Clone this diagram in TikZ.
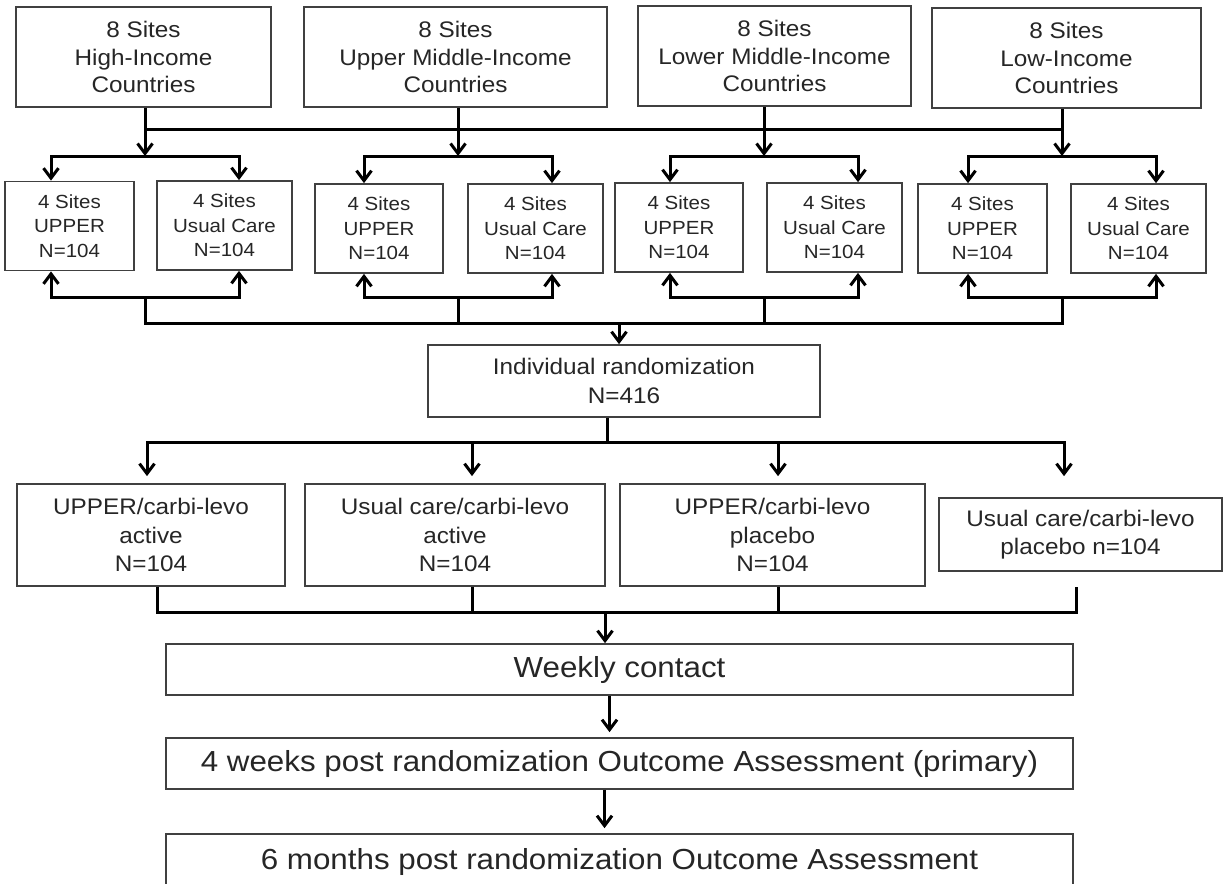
\documentclass[tikz,border=0pt]{standalone}
\usepackage{fontspec}
\setmainfont{Liberation Sans}[FakeStretch=1.08]
\usetikzlibrary{arrows.meta}
\tikzset{
  box/.style={draw=black!75, line width=1.7pt, text=black!85, align=center, inner sep=0pt},
  toptxt/.style={font=\fontsize{22.5}{27.5}\selectfont},
  sitetxt/.style={font=\fontsize{19}{24.5}\selectfont},
  armtxt/.style={font=\fontsize{22.5}{28.5}\selectfont},
  steptxt/.style={font=\fontsize{29}{34}\selectfont},
  link/.style={line width=3pt, black},
  arr/.style={link, -{Straight Barb[length=10pt,width=15pt]}},
  arrs/.style={link, {Straight Barb[length=10pt,width=15pt]}-{Straight Barb[length=10pt,width=15pt]}},
}
\begin{document}
\begin{tikzpicture}[x=1pt, y=-1pt]
  \path[use as bounding box, fill=white] (0,0) rectangle (1225,883);
  \node[box, toptxt, minimum width=255pt, minimum height=100pt] (tA) at (143.5,57) {8 Sites\\High-Income\\Countries};
  \node[box, toptxt, minimum width=303pt, minimum height=100pt] (tB) at (455.5,57) {8 Sites\\Upper Middle-Income\\Countries};
  \node[box, toptxt, minimum width=273pt, minimum height=100pt] (tC) at (774.5,56) {8 Sites\\Lower Middle-Income\\Countries};
  \node[box, toptxt, minimum width=269pt, minimum height=100pt] (tD) at (1066.5,58) {8 Sites\\Low-Income\\Countries};
  \node[box, sitetxt, minimum width=129pt, minimum height=89pt] (uA) at (69.5,226) {4 Sites\\UPPER\\N=104};
  \node[box, sitetxt, minimum width=135pt, minimum height=89pt] (cA) at (224.5,225.5) {4 Sites\\Usual Care\\N=104};
  \node[box, sitetxt, minimum width=128pt, minimum height=89pt] (uB) at (379,228.5) {4 Sites\\UPPER\\N=104};
  \node[box, sitetxt, minimum width=135pt, minimum height=89pt] (cB) at (535.5,228.5) {4 Sites\\Usual Care\\N=104};
  \node[box, sitetxt, minimum width=128pt, minimum height=89pt] (uC) at (679,227.5) {4 Sites\\UPPER\\N=104};
  \node[box, sitetxt, minimum width=135pt, minimum height=89pt] (cC) at (834.5,227.5) {4 Sites\\Usual Care\\N=104};
  \node[box, sitetxt, minimum width=129pt, minimum height=89pt] (uD) at (982.5,228.5) {4 Sites\\UPPER\\N=104};
  \node[box, sitetxt, minimum width=135pt, minimum height=89pt] (cD) at (1138.5,228.5) {4 Sites\\Usual Care\\N=104};
  \node[box, armtxt, minimum width=392pt, minimum height=72pt] (rnd) at (624,381) {Individual randomization\\N=416};
  \node[box, armtxt, minimum width=268pt, minimum height=102pt] (mA) at (151,535) {UPPER/carbi-levo\\active\\N=104};
  \node[box, armtxt, minimum width=300pt, minimum height=102pt] (mB) at (455,535) {Usual care/carbi-levo\\active\\N=104};
  \node[box, armtxt, minimum width=305pt, minimum height=102pt] (mC) at (772.5,535) {UPPER/carbi-levo\\placebo\\N=104};
  \node[box, armtxt, minimum width=283pt, minimum height=73pt] (mD) at (1080.5,534.5) {Usual care/carbi-levo\\placebo n=104};
  \node[box, steptxt, minimum width=907pt, minimum height=51pt] (wk) at (619.5,669.5) {Weekly contact};
  \node[box, steptxt, minimum width=907pt, minimum height=51pt] (w4) at (619.5,763.5) {4 weeks post randomization Outcome Assessment (primary)};
  \node[box, steptxt, minimum width=907pt, minimum height=56pt] (m6) at (619.5,862) {6 months post randomization Outcome Assessment};
  \foreach \g/\s in {A/145,B/458,C/764,D/1062} {
    \coordinate (bus\g) at (\s,129);
    \coordinate (sub\g) at (\s,156);
    \coordinate (subL\g) at (\s-94,156);
    \coordinate (subR\g) at (\s+94,156);
    \coordinate (low\g) at (\s,297);
    \coordinate (lowL\g) at (\s-94,297);
    \coordinate (lowR\g) at (\s+94,297);
    \coordinate (ret\g) at (\s,323);
  }
  \coordinate (retM) at (619,323);
  \coordinate (dist) at (607,442);
  \coordinate (dA) at (147,442);
  \coordinate (dB) at (472,442);
  \coordinate (dC) at (778,442);
  \coordinate (dD) at (1064,442);
  \coordinate (gA) at (157,612);
  \coordinate (gB) at (472,612);
  \coordinate (gC) at (778,612);
  \coordinate (gD) at (1076,612);
  \coordinate (gM) at (605,612);
  \begin{scope}
    \draw[link] (busA) -- (busD);
    \foreach \g in {A,B,C,D} {
      \draw[arr] (t\g.south -| sub\g) -- (sub\g);
      \draw[arrs] (subL\g |- u\g.north) -- (subL\g) -- (subR\g) -- (subR\g |- c\g.north);
      \draw[arrs] (lowL\g |- u\g.south) -- (lowL\g) -- (lowR\g) -- (lowR\g |- c\g.south);
    }
    \draw[link] (lowA) -- (retA) -- (retD) -- (lowD);
    \draw[link] (lowB) -- (retB);
    \draw[link] (lowC) -- (retC);
    \draw[arr] (retM) -- (retM |- rnd.north);
    \draw[link] (rnd.south -| dist) -- (dist);
    \draw[arrs, shorten <=7pt, shorten >=7pt] (dA |- mA.north) -- (dA) -- (dD) -- (dD |- mA.north);
    \draw[arr, shorten >=7pt] (dB) -- (dB |- mA.north);
    \draw[arr, shorten >=7pt] (dC) -- (dC |- mA.north);
    \draw[link] (mA.south -| gA) -- (gA) -- (gD) -- (mA.south -| gD);
    \draw[link] (mB.south -| gB) -- (gB);
    \draw[link] (mC.south -| gC) -- (gC);
    \draw[arr] (gM) -- (gM |- wk.north);
    \draw[arr, shorten >=5pt] ([xshift=-10pt]wk.south) -- ([xshift=-10pt]w4.north);
    \draw[arr, shorten >=5pt] ([xshift=-15pt]w4.south) -- ([xshift=-15pt]m6.north);
  \end{scope}
\end{tikzpicture}
\end{document}
